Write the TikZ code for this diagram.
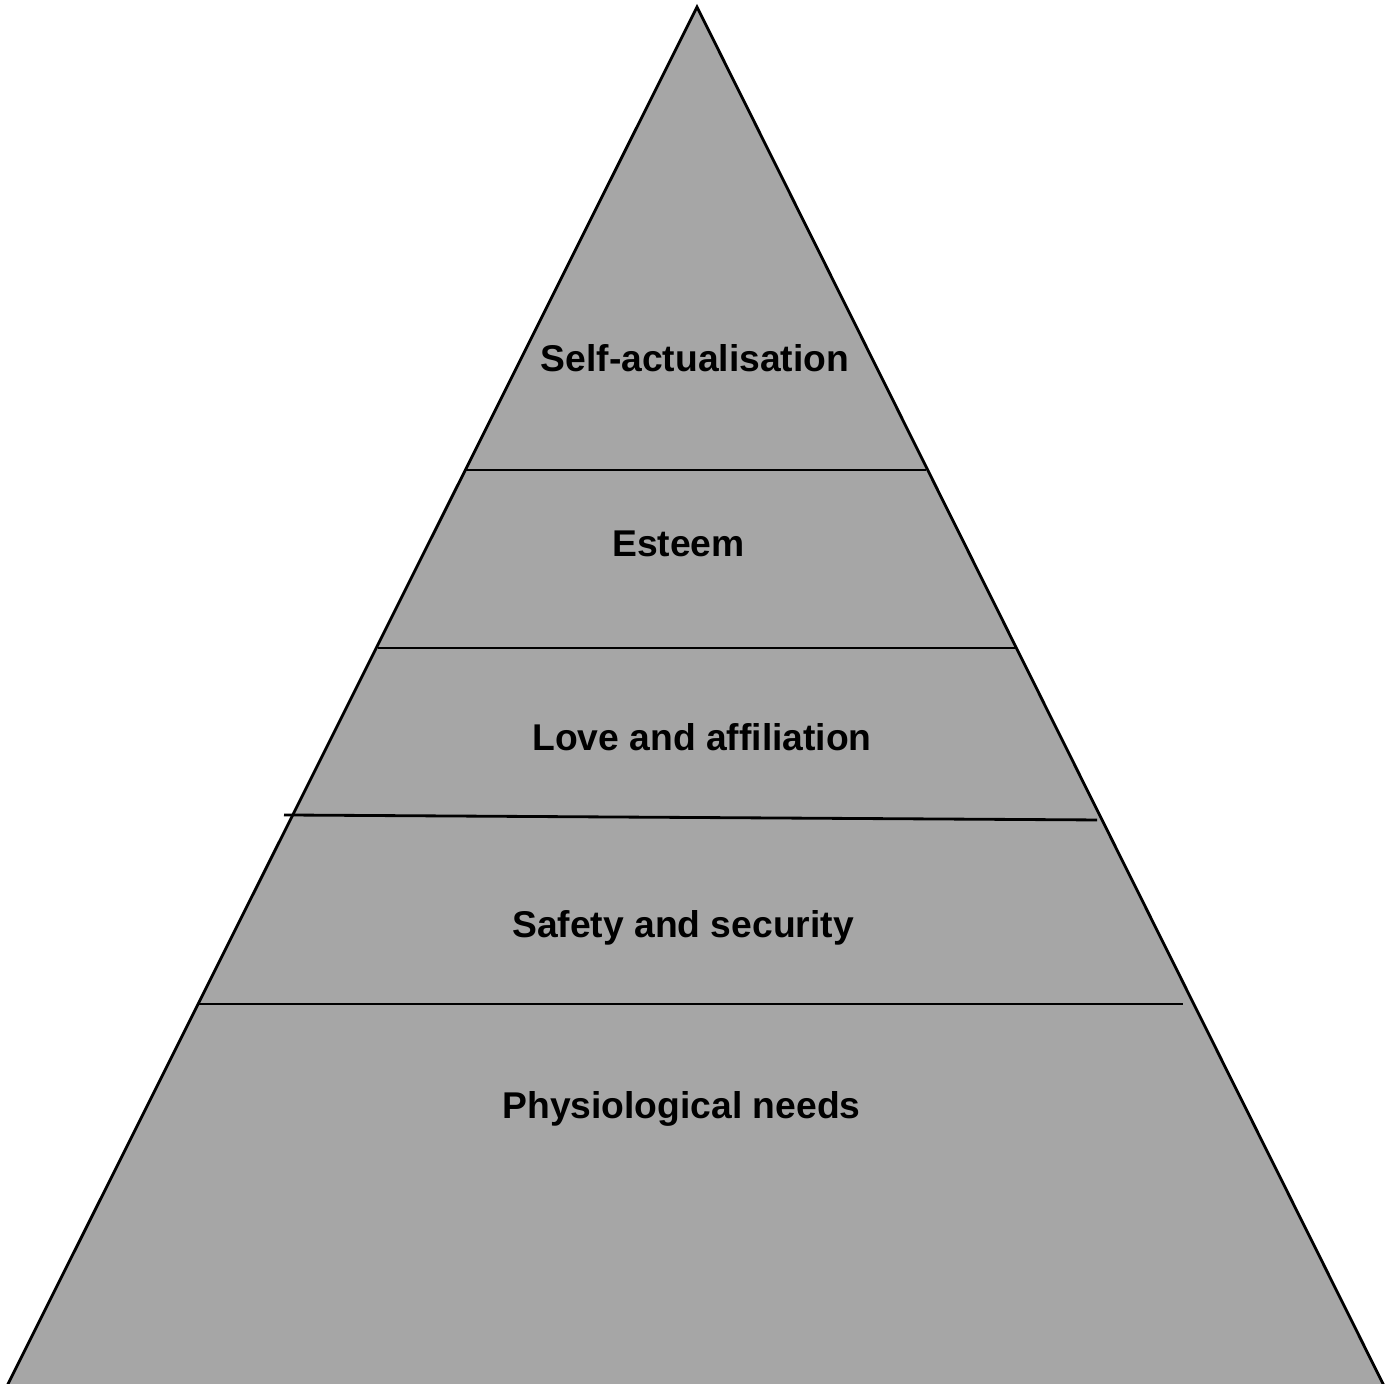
\documentclass[tikz,border=0pt]{standalone}
\usepackage{fontspec}
\setmainfont{Liberation Sans}
\usepackage{tikz}
\definecolor{pyrgray}{RGB}{166,166,166}
\tikzset{
    layer/.style={anchor=base, inner sep=0pt, font=\fontsize{10.6}{12.7}\selectfont\bfseries},
    edge/.style={draw=black, line width=0.8pt},
}

\begin{document}
\begin{tikzpicture}
\useasboundingbox (0,0) rectangle (13.88,13.84);
\clip (0,0) rectangle (13.88,13.84);

\coordinate (top) at (6.97,13.77);
\coordinate (bl) at (-0.17,-0.5);
\coordinate (br) at (14.08,-0.5);
\filldraw[pyrgray, edge] (top)--(bl)--(br)--cycle;

% level borders
\coordinate (l1) at (4.66,9.14);  \coordinate (r1) at (9.26,9.14);
\coordinate (l2) at (3.78,7.36);  \coordinate (r2) at (10.16,7.36);
\coordinate (l3) at (2.84,5.69);  \coordinate (r3) at (10.97,5.64);
\coordinate (l4) at (1.99,3.80);  \coordinate (r4) at (11.83,3.80);
\draw[edge] (l1)--(r1);
\draw[edge] (l2)--(r2);
\draw[edge] (l3)--(r3);
\draw[edge] (l4)--(r4);

\node[layer] (self) at (6.95,10.12) {Self-actualisation};
\node[layer] (esteem) at (6.785,8.27) {Esteem};
\node[layer] (love) at (7.02,6.33) {Love and affiliation};
\node[layer] (safety) at (6.83,4.46) {Safety and security};
\node[layer] (phys) at (6.815,2.65) {Physiological needs};
\end{tikzpicture}
\end{document}
